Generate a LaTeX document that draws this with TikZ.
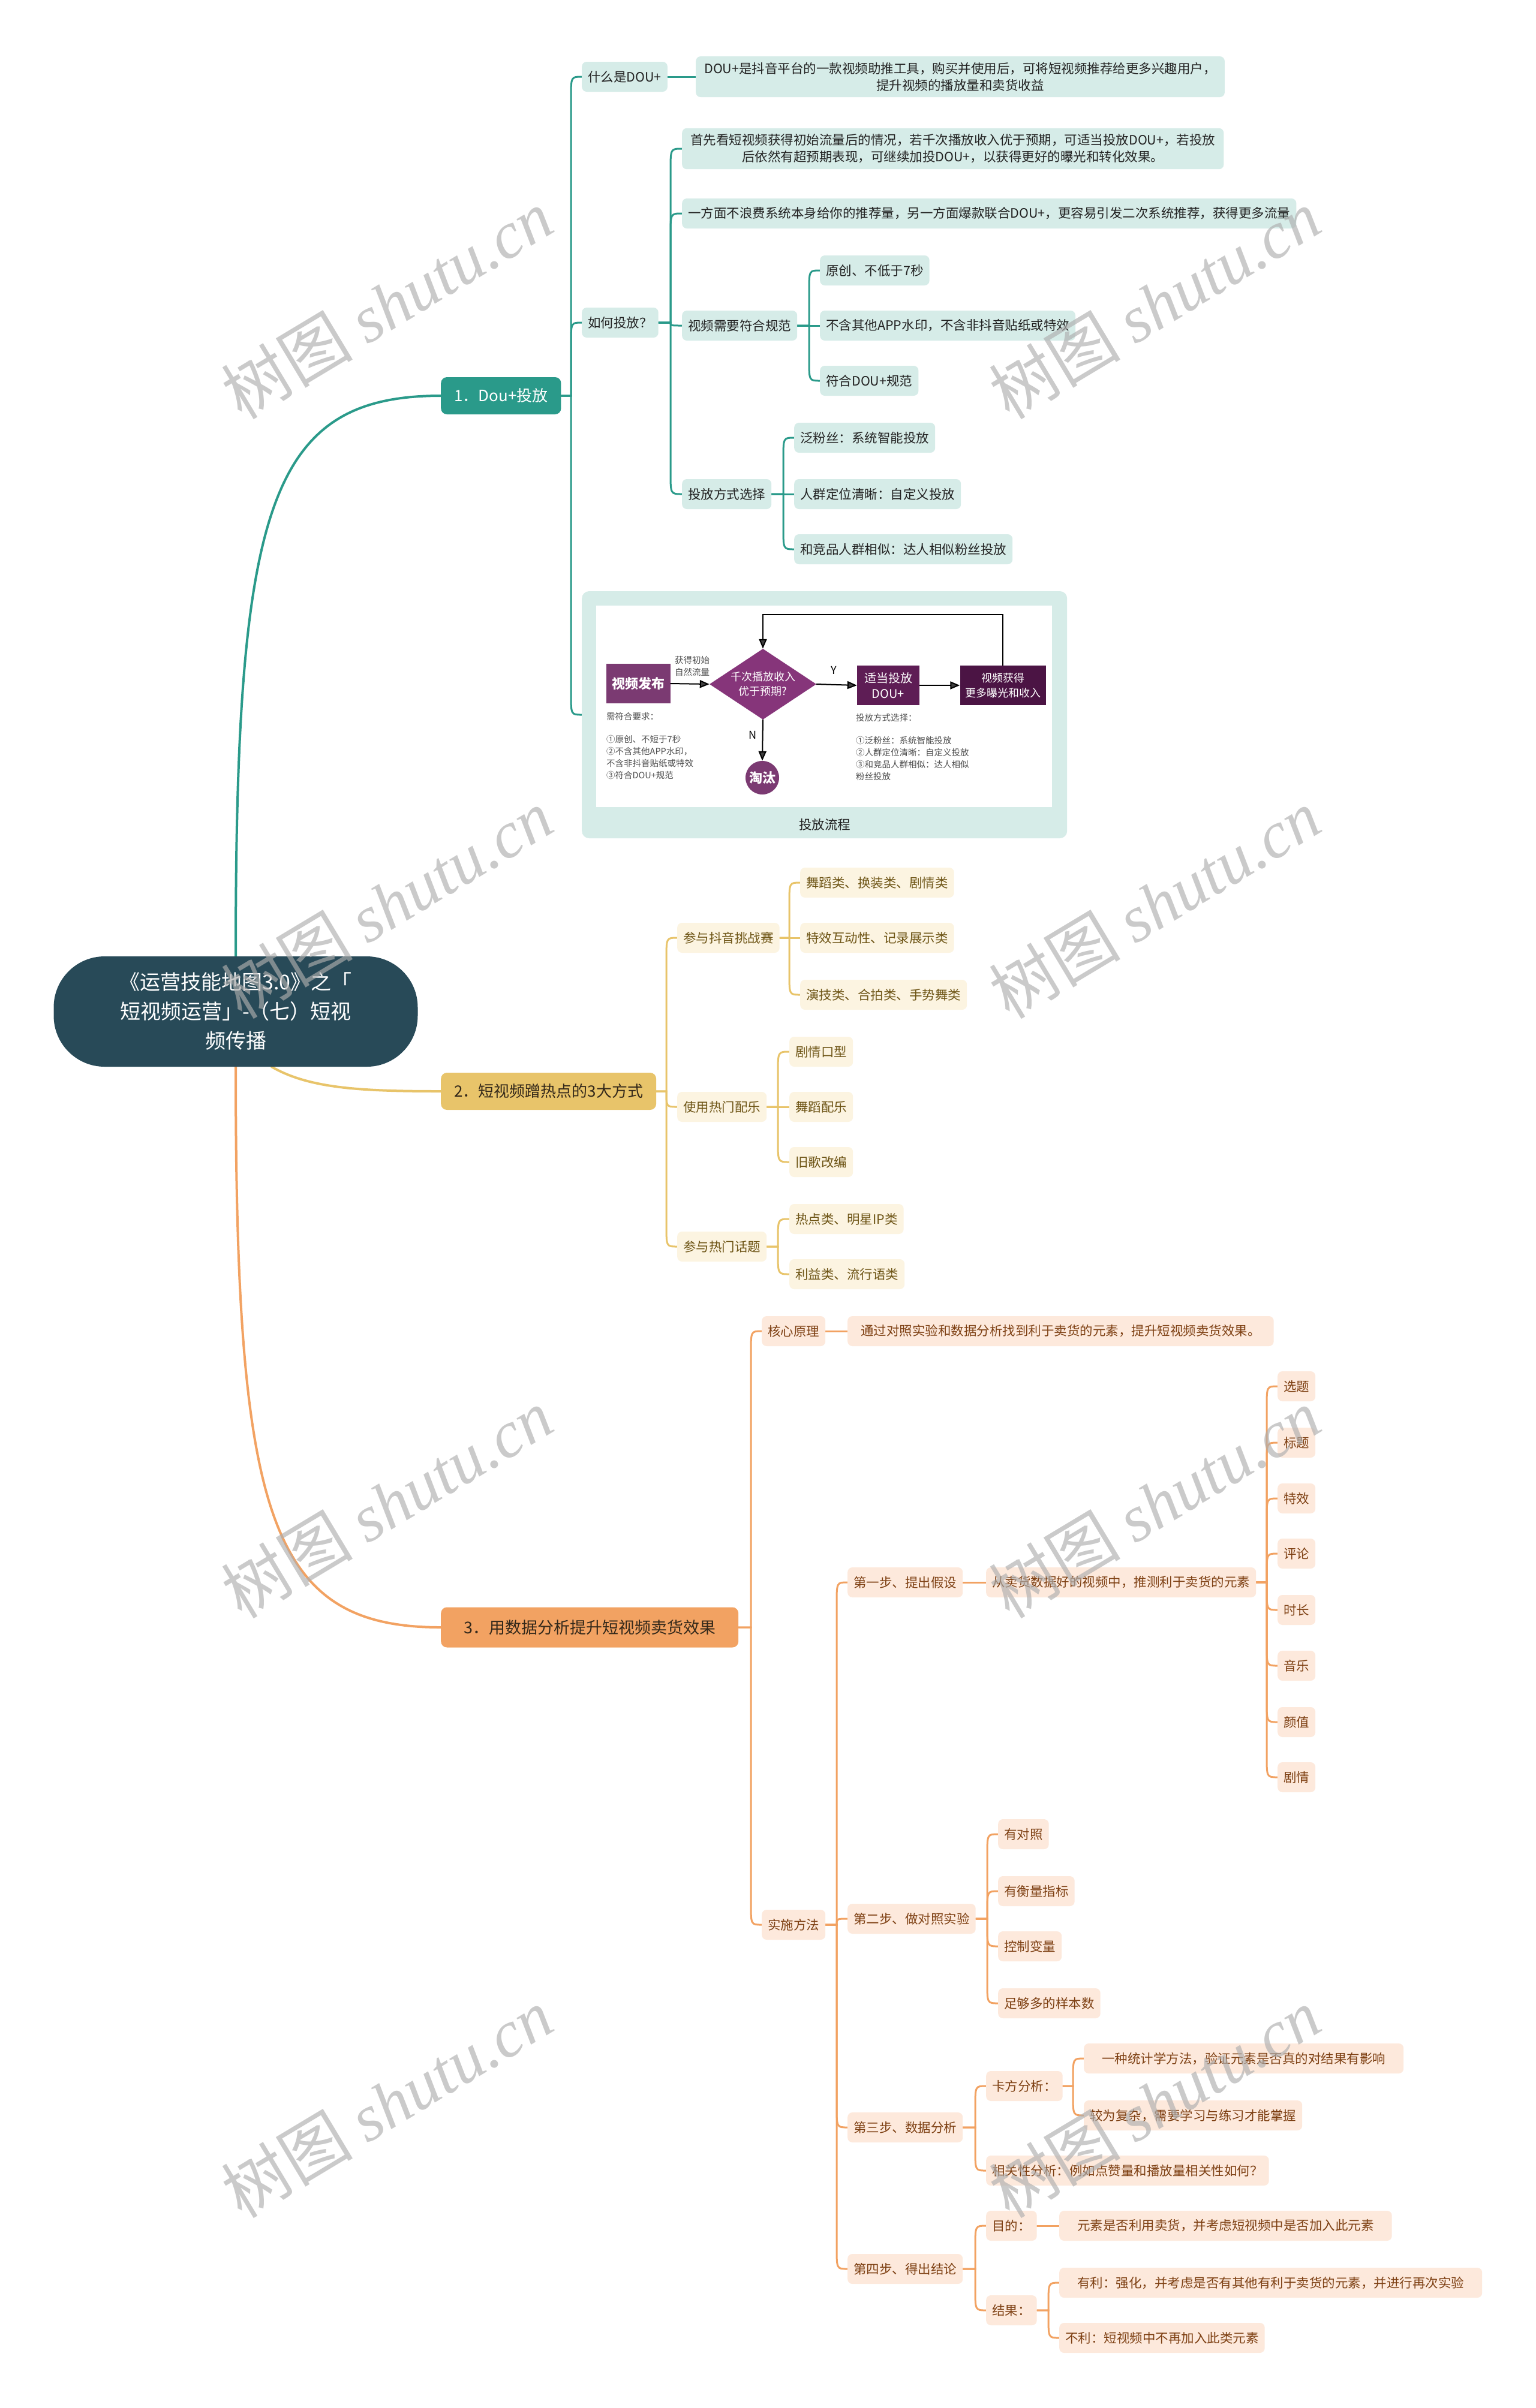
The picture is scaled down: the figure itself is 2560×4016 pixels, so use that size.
\documentclass[tikz,border=0pt]{standalone}
\usepackage{fontspec}
\setmainfont{Noto Sans CJK SC}
\newfontfamily\wmserif{Liberation Serif}
\usetikzlibrary{shapes.geometric,arrows.meta,calc}
\pgfdeclarelayer{back}\pgfdeclarelayer{bg}\pgfdeclarelayer{front}
\pgfsetlayers{back,bg,main,front}
\definecolor{rootc}{HTML}{284A58}
\definecolor{tealc}{HTML}{2A9A8A}
\definecolor{teall}{HTML}{D6ECE8}
\definecolor{tealt}{HTML}{222222}
\definecolor{yelc}{HTML}{E8C46A}
\definecolor{yell}{HTML}{FCF4E1}
\definecolor{yelt}{HTML}{6E5516}
\definecolor{orac}{HTML}{F2A262}
\definecolor{oral}{HTML}{FDE9DC}
\definecolor{orat}{HTML}{7D3F12}
\definecolor{maint}{HTML}{33281A}
\definecolor{pa}{HTML}{7B3A72}
\definecolor{pb}{HTML}{86357A}
\definecolor{pc}{HTML}{5E1D55}
\definecolor{pd}{HTML}{4B1444}
\definecolor{wmc}{HTML}{AEAEAE}
\tikzset{
 base/.style={rounded corners=8pt, inner xsep=10pt, inner ysep=10pt, minimum height=50pt,
   font=\fontsize{21.5}{28}\selectfont, align=center, anchor=west},
 tbox/.style={base, fill=teall, text=tealt},
 ybox/.style={base, fill=yell, text=yelt},
 obox/.style={base, fill=oral, text=orat},
 mainbox/.style={rounded corners=10pt, inner xsep=22pt, minimum height=62pt,
   font=\fontsize{26}{32}\selectfont, anchor=west},
 tl/.style={draw=tealc, line width=3pt, line cap=round},
 yl/.style={draw=yelc, line width=3pt, line cap=round},
 ol/.style={draw=orac, line width=3pt, line cap=round},
 br/.style={to path={let \p1=(\tikztostart),\p2=(\tikztotarget),\n1={abs(\y2-\y1)},
   \n2={(\y2>\y1)?1:-1},\n3={min(\n1,36)} in
   -- (\x1,{\y2-\n2*\n3}) .. controls (\x1,\y2) .. (\x2,\y2)}},
 fcbox/.style={rectangle, inner sep=0pt, text=white, font=\fontsize{19}{24}\selectfont\bfseries, align=center},
 fa/.style={draw=black, line width=2pt, -{Triangle[length=16pt,width=13pt,fill=black!75]}},
 small/.style={font=\fontsize{14.5}{20}\selectfont, text=black!70, inner sep=0pt},
 wm/.style={font=\fontsize{110}{110}\selectfont, text=wmc, opacity=0.65, rotate=31, inner sep=0pt}
}
\begin{document}
\begin{tikzpicture}[x=1pt,y=-1pt]
\useasboundingbox (0,0) rectangle (2560,4016);
\begin{pgfonlayer}{back}
\fill[white] (0,0) rectangle (2560,4016);
\end{pgfonlayer}

% root
\node[rounded corners=85pt, fill=rootc, text=white, minimum width=607pt, minimum height=184pt,
  font=\fontsize{34}{49}\selectfont, align=center] (root) at (393,1687)
  {《运营技能地图3.0》之「\\短视频运营」-（七）短视\\频传播};

% ===== branch 1 =====
\node[mainbox, fill=tealc, text=white] (n1) at (735,660) {1．Dou+投放};
\coordinate (s1) at (952,0);
\node[tbox] (a1) at (970,128) {什么是DOU+};
\node[tbox, inner xsep=14pt] (a1d) at (1160,128) {DOU+是抖音平台的一款视频助推工具，购买并使用后，可将短视频推荐给更多兴趣用户，\\提升视频的播放量和卖货收益};
\node[tbox] (a2) at (970,538) {如何投放？};
\coordinate (s2) at (1118,0);
\node[tbox, inner xsep=14pt] (b1) at (1137,248) {首先看短视频获得初始流量后的情况，若千次播放收入优于预期，可适当投放DOU+，若投放\\后依然有超预期表现，可继续加投DOU+，以获得更好的曝光和转化效果。};
\node[tbox] (b2) at (1137,356) {一方面不浪费系统本身给你的推荐量，另一方面爆款联合DOU+，更容易引发二次系统推荐，获得更多流量};
\node[tbox] (b3) at (1137,543) {视频需要符合规范};
\coordinate (s3) at (1349,0);
\node[tbox] (c1) at (1367,451) {原创、不低于7秒};
\node[tbox] (c2) at (1367,543) {不含其他APP水印，不含非抖音贴纸或特效};
\node[tbox] (c3) at (1367,635) {符合DOU+规范};
\node[tbox] (b4) at (1137,824) {投放方式选择};
\coordinate (s4) at (1306,0);
\node[tbox] (d1) at (1324,730) {泛粉丝：系统智能投放};
\node[tbox] (d2) at (1324,824) {人群定位清晰：自定义投放};
\node[tbox] (d3) at (1324,916) {和竞品人群相似：达人相似粉丝投放};
\node[tbox, minimum width=809pt, minimum height=412pt, rounded corners=12pt, inner sep=0pt] (img) at (970,1192) {};
\node[fill=white, minimum width=760pt, minimum height=336pt, anchor=north west, inner sep=0pt] (imgin) at (994,1010) {};

% flowchart
\node[fcbox, fill=pa, minimum width=107pt, minimum height=66pt, font=\fontsize{22}{26}\selectfont\bfseries] (vf) at (1064,1140) {视频发布};
\node[diamond, fill=pb, minimum width=178pt, minimum height=118pt, inner sep=0pt] (dm) at (1272,1141) {};
\node[text=white, font=\fontsize{18}{24}\selectfont, align=center, inner sep=0pt] (dmt) at (1272,1141) {千次播放收入\\优于预期?};
\node[fcbox, fill=pc, minimum width=104pt, minimum height=66pt, font=\fontsize{20}{26}\selectfont] (dp) at (1481,1143) {适当投放\\DOU+};
\node[fcbox, fill=pd, minimum width=143pt, minimum height=66pt, font=\fontsize{18}{25}\selectfont] (dg) at (1672,1143) {视频获得\\更多曝光和收入};
\node[circle, fill=pa, minimum size=56pt, inner sep=0pt, text=white, font=\fontsize{22}{24}\selectfont\bfseries] (tt) at (1271,1297) {淘汰};
\coordinate (lp) at (1272,1025);
\draw[fa] (vf.east) -- (dm.west);
\draw[fa] (dm.east) -- (dp.west);
\draw[fa] (dp.east) -- (dg.west);
\draw[fa] (dg.north) |- (lp) -- (dm.north);
\draw[fa] (dm.south) -- (tt.north);
\node[font=\fontsize{18}{20}\selectfont, inner sep=0pt] (ly) at (1390,1118) {Y};
\node[font=\fontsize{18}{20}\selectfont, inner sep=0pt] (ln) at (1255,1226) {N};
\node[small, align=center] (gain) at (1154,1111) {获得初始\\自然流量};
\node[small, align=left, anchor=north west] (req) at (1011,1188) {需符合要求：\\[18pt]①原创、不短于7秒\\②不含其他APP水印，\\不含非抖音贴纸或特效\\③符合DOU+规范};
\node[small, align=left, anchor=north west] (mode) at (1427,1190) {投放方式选择：\\[18pt]①泛粉丝：系统智能投放\\②人群定位清晰：自定义投放\\③和竞品人群相似：达人相似\\粉丝投放};
\node[font=\fontsize{21.5}{26}\selectfont, text=tealt, inner sep=0pt] (cap) at (1375,1375) {投放流程};

% ===== branch 2 =====
\node[mainbox, fill=yelc, text=maint] (n2) at (735,1820) {2．短视频蹭热点的3大方式};
\coordinate (t1) at (1111,0);
\node[ybox] (e1) at (1129,1564) {参与抖音挑战赛};
\coordinate (t2) at (1316,0);
\node[ybox] (f1) at (1334,1472) {舞蹈类、换装类、剧情类};
\node[ybox] (f2) at (1334,1564) {特效互动性、记录展示类};
\node[ybox] (f3) at (1334,1659) {演技类、合拍类、手势舞类};
\node[ybox] (e2) at (1129,1846) {使用热门配乐};
\coordinate (t3) at (1297,0);
\node[ybox] (g1) at (1316,1754) {剧情口型};
\node[ybox] (g2) at (1316,1846) {舞蹈配乐};
\node[ybox] (g3) at (1316,1938) {旧歌改编};
\node[ybox] (e3) at (1129,2079) {参与热门话题};
\coordinate (t4) at (1297,0);
\node[ybox] (h1) at (1316,2033) {热点类、明星IP类};
\node[ybox] (h2) at (1316,2125) {利益类、流行语类};

% ===== branch 3 =====
\node[mainbox, fill=orac, text=maint, minimum height=67pt, minimum width=496pt, inner xsep=25pt, font=\fontsize{27}{32}\selectfont] (n3) at (735,2714) {3．用数据分析提升短视频卖货效果};
\coordinate (u1) at (1252,0);
\node[obox] (k1) at (1270,2220) {核心原理};
\node[obox, inner xsep=22pt] (k1d) at (1413,2220) {通过对照实验和数据分析找到利于卖货的元素，提升短视频卖货效果。};
\node[obox] (k2) at (1270,3210) {实施方法};
\coordinate (u2) at (1395,0);
\node[obox] (m1) at (1413,2639) {第一步、提出假设};
\node[obox] (m1d) at (1644,2639) {从卖货数据好的视频中，推测利于卖货的元素};
\coordinate (u3) at (2112,0);
\node[obox] (q1) at (2130,2312) {选题};
\node[obox] (q2) at (2130,2406) {标题};
\node[obox] (q3) at (2130,2499) {特效};
\node[obox] (q4) at (2130,2591) {评论};
\node[obox] (q5) at (2130,2685) {时长};
\node[obox] (q6) at (2130,2778) {音乐};
\node[obox] (q7) at (2130,2872) {颜值};
\node[obox] (q8) at (2130,2964) {剧情};
\node[obox] (m2) at (1413,3200) {第二步、做对照实验};
\coordinate (u4) at (1646,0);
\node[obox] (r1) at (1664,3059) {有对照};
\node[obox] (r2) at (1664,3154) {有衡量指标};
\node[obox] (r3) at (1664,3246) {控制变量};
\node[obox] (r4) at (1664,3341) {足够多的样本数};
\node[obox] (m3) at (1413,3548) {第三步、数据分析};
\coordinate (u5) at (1626,0);
\node[obox] (x1) at (1644,3479) {卡方分析：};
\coordinate (u6) at (1789,0);
\node[obox, inner xsep=30pt] (y1) at (1807,3433) {一种统计学方法，验证元素是否真的对结果有影响};
\node[obox] (y2) at (1807,3528) {较为复杂，需要学习与练习才能掌握};
\node[obox] (x2) at (1644,3620) {相关性分析：例如点赞量和播放量相关性如何？};
\node[obox] (m4) at (1413,3784) {第四步、得出结论};
\coordinate (u7) at (1626,0);
\node[obox] (z1) at (1644,3712) {目的：};
\node[obox, inner xsep=30pt] (z1d) at (1766,3712) {元素是否利用卖货，并考虑短视频中是否加入此元素};
\node[obox] (z2) at (1644,3853) {结果：};
\coordinate (u8) at (1748,0);
\node[obox, inner xsep=30pt] (w1) at (1766,3807) {有利：强化，并考虑是否有其他有利于卖货的元素，并进行再次实验};
\node[obox] (w2) at (1766,3899) {不利：短视频中不再加入此类元素};

% ===== connectors =====
\begin{pgfonlayer}{bg}
\draw[tl, line width=4pt] (root.north) .. controls (393,845) and (448,660) .. (n1.west);
\draw[yl, line width=4pt] ([xshift=60pt]root.south) .. controls (515,1815) and (600,1820) .. (n2.west);
\draw[ol, line width=4pt] (root.south) .. controls (393,2529) and (448,2714) .. (n3.west);

\foreach \c in {a1,a2,img} \draw[tl] (n1.east) -- (n1.east -| s1) to[br] (\c.west);
\draw[tl] (a1.east) -- (a1d.west);
\foreach \c in {b1,b2,b3,b4} \draw[tl] (a2.east) -- (a2.east -| s2) to[br] (\c.west);
\foreach \c in {c1,c2,c3} \draw[tl] (b3.east) -- (b3.east -| s3) to[br] (\c.west);
\foreach \c in {d1,d2,d3} \draw[tl] (b4.east) -- (b4.east -| s4) to[br] (\c.west);

\foreach \c in {e1,e2,e3} \draw[yl] (n2.east) -- (n2.east -| t1) to[br] (\c.west);
\foreach \c in {f1,f2,f3} \draw[yl] (e1.east) -- (e1.east -| t2) to[br] (\c.west);
\foreach \c in {g1,g2,g3} \draw[yl] (e2.east) -- (e2.east -| t3) to[br] (\c.west);
\foreach \c in {h1,h2} \draw[yl] (e3.east) -- (e3.east -| t4) to[br] (\c.west);

\foreach \c in {k1,k2} \draw[ol] (n3.east) -- (n3.east -| u1) to[br] (\c.west);
\draw[ol] (k1.east) -- (k1d.west);
\foreach \c in {m1,m2,m3,m4} \draw[ol] (k2.east) -- (k2.east -| u2) to[br] (\c.west);
\draw[ol] (m1.east) -- (m1d.west);
\foreach \c in {q1,q2,q3,q4,q5,q6,q7,q8} \draw[ol] (m1d.east) -- (m1d.east -| u3) to[br] (\c.west);
\foreach \c in {r1,r2,r3,r4} \draw[ol] (m2.east) -- (m2.east -| u4) to[br] (\c.west);
\foreach \c in {x1,x2} \draw[ol] (m3.east) -- (m3.east -| u5) to[br] (\c.west);
\foreach \c in {y1,y2} \draw[ol] (x1.east) -- (x1.east -| u6) to[br] (\c.west);
\foreach \c in {z1,z2} \draw[ol] (m4.east) -- (m4.east -| u7) to[br] (\c.west);
\draw[ol] (z1.east) -- (z1d.west);
\foreach \c in {w1,w2} \draw[ol] (z2.east) -- (z2.east -| u8) to[br] (\c.west);
\end{pgfonlayer}

% ===== watermarks =====
\begin{pgfonlayer}{front}
\foreach \wy [count=\i] in {507,1507,2507,3507} {
  \node[wm] (wl\i) at (645,\wy) {树图 {\wmserif\itshape shutu.cn}};
  \node[wm] (wr\i) at (1925,\wy) {树图 {\wmserif\itshape shutu.cn}};
}
\end{pgfonlayer}
\end{tikzpicture}
\end{document}
